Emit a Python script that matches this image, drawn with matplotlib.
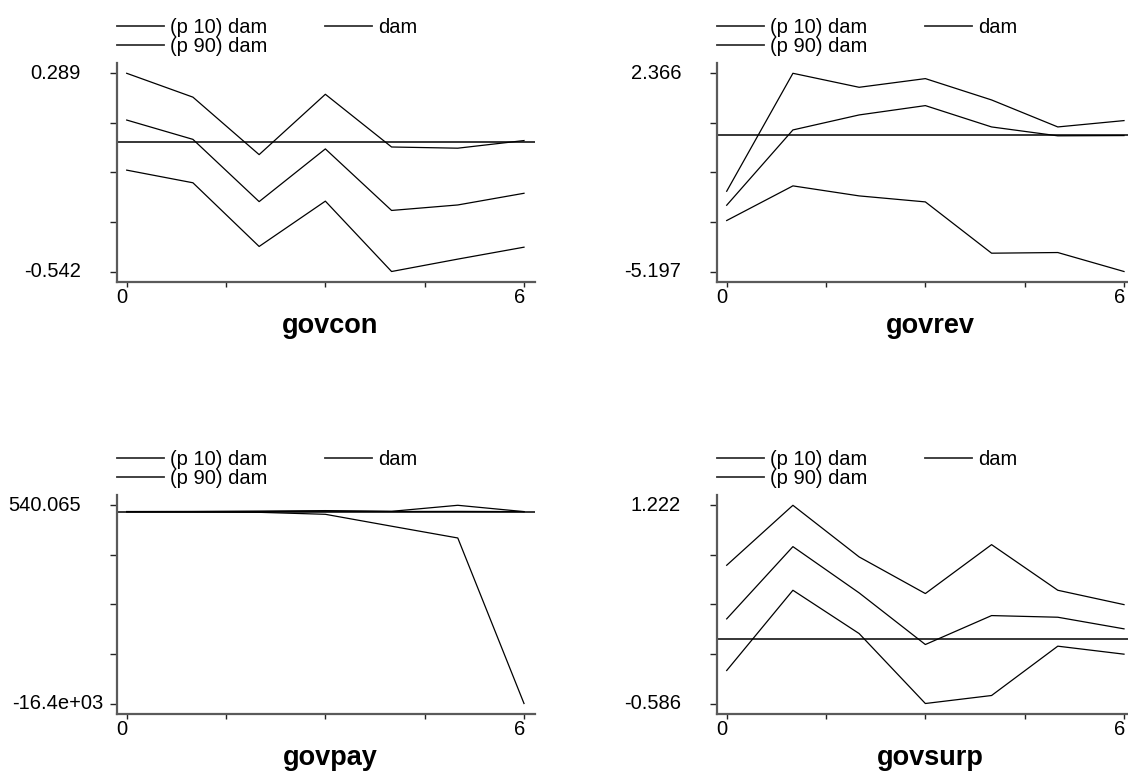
import matplotlib
matplotlib.use("Agg")
import matplotlib.pyplot as plt
import matplotlib.transforms as mtransforms
from matplotlib.lines import Line2D

plt.rcParams['font.family'] = ['Liberation Sans', 'DejaVu Sans']

# ---------------- data ----------------
steps = [0, 1, 2, 3, 4, 5, 6]

govcon_p10 = [-0.117, -0.170, -0.437, -0.247, -0.542, -0.490, -0.440]
govcon_dam = [0.093, 0.012, -0.249, -0.028, -0.286, -0.263, -0.214]
govcon_p90 = [0.289, 0.189, -0.052, 0.201, -0.020, -0.025, 0.007]

govrev_p10 = [-3.252, -1.930, -2.312, -2.541, -4.498, -4.473, -5.197]
govrev_dam = [-2.668, 0.205, 0.777, 1.133, 0.319, -0.020, -0.010]
govrev_p90 = [-2.134, 2.366, 1.832, 2.163, 1.349, 0.319, 0.561]

govpay_p10 = [-15, -30, -60, -230, -1247, -2254, -16400]
govpay_dam = [0, 5, 10, 30, 10, 20, 0]
govpay_p90 = [5, 10, 40, 85, 25, 540.065, 0]

govsurp_p10 = [-0.285, 0.447, 0.052, -0.586, -0.513, -0.063, -0.136]
govsurp_dam = [0.186, 0.845, 0.423, -0.048, 0.216, 0.201, 0.095]
govsurp_p90 = [0.675, 1.222, 0.751, 0.417, 0.863, 0.447, 0.316]

panel_titles = ["govcon", "govrev", "govpay", "govsurp"]
ytick_labels = [["-0.542", "0.289"], ["-5.197", "2.366"],
                ["-16.4e+03", "540.065"], ["-0.586", "1.222"]]
xtick_labels = ["0", "6"]
legend_labels = ["(p 10) dam", "(p 90) dam", "dam"]

series = [
    (govcon_p10, govcon_dam, govcon_p90),
    (govrev_p10, govrev_dam, govrev_p90),
    (govpay_p10, govpay_dam, govpay_p90),
    (govsurp_p10, govsurp_dam, govsurp_p90),
]

# ---------------- layout ----------------
W, H = 1128, 778
fig = plt.figure(figsize=(W / 100, H / 100), dpi=100)

ax_w, ax_h = 418.3, 218.2
origins = [(116.7, 63.3), (716.7, 63.3), (116.7, 495.3), (716.7, 495.3)]
ylabel_shift = {(2, 0): 22.0}   # px shift to the right for overflowing label

spine_col = '#5a5a5a'
tick_fs = 14.5
px = 1 / 100.0

for i, ((x0, y0), (p10, dam, p90)) in enumerate(zip(origins, series)):
    ax = fig.add_axes([x0 / W, 1 - (y0 + ax_h) / H, ax_w / W, ax_h / H])
    ax.set_facecolor('none')
    lo = min(p10)
    hi = max(p90)
    rng = hi - lo
    pad = 0.0504 * rng
    ax.set_ylim(lo - pad, hi + pad)
    ax.set_xlim(-0.151, 6.166)

    ax.axhline(0, color='black', lw=1.1, zorder=2)
    l1, = ax.plot(steps, p10, color='black', lw=0.9, zorder=3)
    l2, = ax.plot(steps, p90, color='black', lw=0.9, zorder=3)
    l3, = ax.plot(steps, dam, color='black', lw=0.9, zorder=3)

    for s in ['top', 'right']:
        ax.spines[s].set_visible(False)
    for s in ['left', 'bottom']:
        ax.spines[s].set_color(spine_col)
        ax.spines[s].set_linewidth(1.6)

    yt = [lo + k * rng / 4 for k in range(5)]
    ax.set_yticks(yt)
    ax.set_yticklabels([])
    ax.set_xticks([0, 1.5, 3, 4.5, 6])
    ax.set_xticklabels([])
    ax.tick_params(axis='y', length=4.8, width=1.0, color='#222222', direction='out')
    ax.tick_params(axis='x', length=3.8, width=1.0, color='#222222', direction='out')

    # y tick labels (only ends)
    ytrans = mtransforms.blended_transform_factory(ax.transAxes, ax.transData)
    for j, (val, lab) in enumerate(zip([lo, hi], ytick_labels[i])):
        dx = (-(116.7 - 81.0) + ylabel_shift.get((i, j), 0.0)) * px
        tr = ytrans + mtransforms.ScaledTranslation(dx, 0, fig.dpi_scale_trans)
        ax.text(0, val, lab, transform=tr, ha='right', va='center',
                fontsize=tick_fs, color='black')

    # x tick labels (only ends)
    xtrans = mtransforms.blended_transform_factory(ax.transData, ax.transAxes)
    for val, lab in zip([steps[0], steps[-1]], xtick_labels):
        tr = xtrans + mtransforms.ScaledTranslation(-4.5 * px, -21.8 * px, fig.dpi_scale_trans)
        ax.text(val, 0, lab, transform=tr, ha='center', va='baseline',
                fontsize=tick_fs, color='black')

    # title below
    tr = ax.transAxes + mtransforms.ScaledTranslation(4.5 * px, -51.5 * px, fig.dpi_scale_trans)
    ax.text(0.5, 0, panel_titles[i], transform=tr, ha='center', va='baseline',
            fontsize=19.5, fontweight='bold', color='black')

    # legend
    handles = [Line2D([], [], color='#333333', lw=1.3) for _ in range(3)]
    ax.legend(handles, legend_labels, ncol=2, loc='upper left',
              bbox_to_anchor=(0, 1 + 45.1 / ax_h), frameon=False,
              borderpad=0, borderaxespad=0, fontsize=tick_fs,
              handlelength=2.34, handletextpad=0.3, columnspacing=2.87,
              labelspacing=0.0)

fig.savefig('out.png', dpi=100)
